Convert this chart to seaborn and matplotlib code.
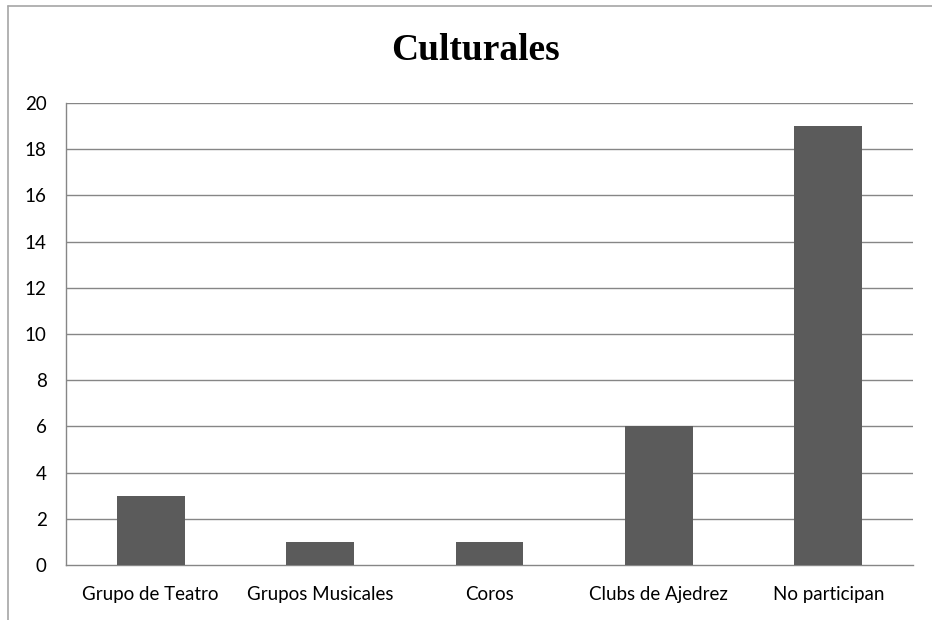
import matplotlib
matplotlib.use("Agg")
import matplotlib.pyplot as plt
import seaborn as sns
import pandas as pd
from matplotlib.lines import Line2D

categories = ["Grupo de Teatro", "Grupos Musicales", "Coros", "Clubs de Ajedrez", "No participan"]
values = [3, 1, 1, 6, 19]
yticks = list(range(0, 21, 2))
title = "Culturales"

sns.set_style("white")
plt.rcParams['font.family'] = ['Lato', 'DejaVu Sans']

W, H = 932, 620
fig = plt.figure(figsize=(W / 100, H / 100), dpi=100)
ax = fig.add_axes([66 / W, 1 - 565 / H, (913 - 66) / W, (565 - 103) / H])

df = pd.DataFrame({"cat": categories, "val": values})
sns.barplot(data=df, x="cat", y="val", color="#5b5b5b", saturation=1, width=0.4,
            linewidth=0, edgecolor="none", ax=ax, zorder=3)

grid_c = "#868686"
ax.set_ylim(0, 20)
ax.set_xlim(-0.5, len(categories) - 0.5)
ax.set_yticks(yticks)
ax.set_yticklabels([str(t) for t in yticks], fontsize=13.5, color="black")
for t in yticks[1:]:
    ax.axhline(t, color=grid_c, lw=1, zorder=1)
ax.set_xticks(range(len(categories)))
ax.set_xticklabels(categories, fontsize=13.5, color="black")
ax.set_xticks([i - 0.5 for i in range(len(categories) + 1)], minor=True)
ax.tick_params(axis="x", which="major", length=0, pad=15)
ax.tick_params(axis="x", which="minor", length=6, color=grid_c, width=1)
ax.tick_params(axis="y", which="major", length=6, color=grid_c, width=1, pad=8)
ax.set_xlabel("")
ax.set_ylabel("")
for s in ["top", "right"]:
    ax.spines[s].set_visible(False)
for s in ["left", "bottom"]:
    ax.spines[s].set_color(grid_c)
    ax.spines[s].set_linewidth(1)

fig.text(475 / W, 1 - 50 / H, title, ha="center", va="center", fontsize=27,
         fontweight="bold", color="black", family=["Liberation Serif", "DejaVu Serif"])

border_c = "#a6a6a6"
fig.add_artist(Line2D([8 / W, 8 / W], [0, 1 - 6 / H], color=border_c, lw=1.2, transform=fig.transFigure))
fig.add_artist(Line2D([8 / W, 1], [1 - 6 / H, 1 - 6 / H], color=border_c, lw=1.2, transform=fig.transFigure))

fig.savefig("out.png", dpi=100, facecolor="white")
